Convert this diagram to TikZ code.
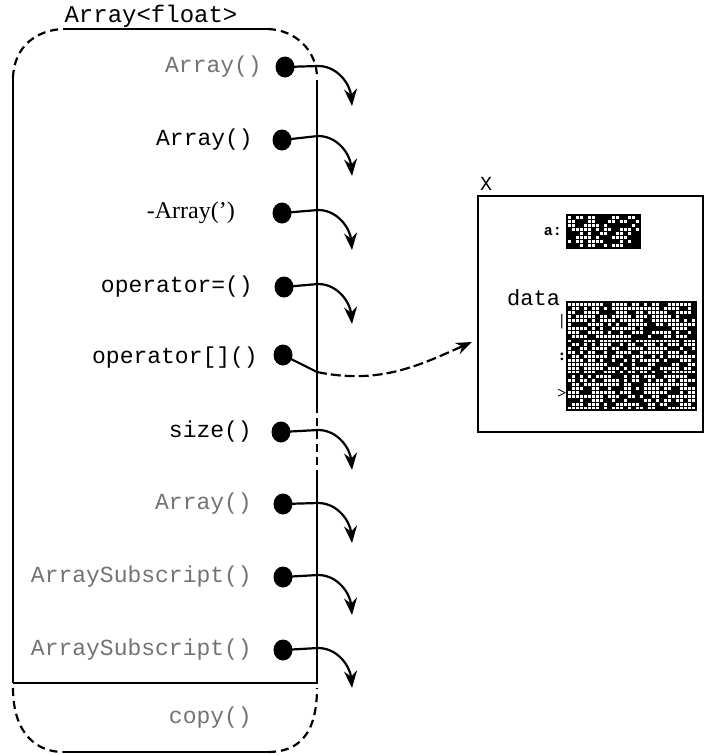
\documentclass[tikz,border=0pt]{standalone}
\usepackage{fontspec}
\setmonofont{Liberation Mono}
\setmainfont{Liberation Serif}
\usetikzlibrary{arrows.meta,shapes.geometric}
\tikzset{
  lbl/.style={anchor=east,inner sep=0pt,font=\ttfamily\fontsize{23}{25}\selectfont},
  faint/.style={text=black!55},
  dot/.style={ellipse,fill=black,inner sep=0pt,minimum width=19pt,minimum height=21pt},
  edge/.style={line width=2.2pt},
  call/.style={line width=2.2pt,-{Stealth[length=17pt,width=13pt]}},
  outline/.style={line width=2.2pt},
  dashline/.style={line width=2.2pt,dash pattern=on 8pt off 5pt},
  noisebox/.style={draw=black,line width=2pt},
  rowmark/.style={inner sep=0pt,font=\bfseries\fontsize{16}{18}\selectfont},
}
\begin{document}
\begin{tikzpicture}[x=1pt,y=-1pt]
\useasboundingbox (0,0) rectangle (704,755);
\fill[white] (0,0) rectangle (704,755);

% class outline
\node[inner sep=0pt,font=\ttfamily\fontsize{24}{26}\selectfont] (title) at (151,17) {\underline{Array<float>}};
\coordinate (tl) at (63,29);
\coordinate (tr) at (268,29);
\coordinate (ls) at (13,78);
\coordinate (rs) at (317,78);
\coordinate (lb) at (13,683);
\coordinate (rb) at (318,683);
\coordinate (bl) at (63,752);
\coordinate (br) at (268,752);
\draw[outline] (tl) -- (tr);
\draw[dashline] (ls) .. controls (14,45) and (38,30) .. (tl);
\draw[dashline] (tr) .. controls (295,30) and (317,50) .. (rs);
\draw[outline] (ls) -- (lb);
\draw[outline] (317,80) -- (317,405);
\draw[dashline] (317,405) -- (317,478);
\draw[outline] (317,478) -- (317,683);
\draw[line width=2.8pt] (lb) -- (rb);
\draw[dashline] (13,688) .. controls (13,735) and (38,752) .. (bl);
\draw[outline] (bl) -- (br);
\draw[dashline] (br) .. controls (298,752) and (317,735) .. (317,688);

% members
\node[lbl,faint] (m1) at (262,67) {Array()};
\node[lbl] (m2) at (253,140) {Array()};
\node[lbl,font=\rmfamily\fontsize{24}{26}\selectfont] (m3) at (235,213) {-Array(')};
\node[lbl] (m4) at (253,287) {operator=()};
\node[lbl] (m5) at (258,358) {operator[]()};
\node[lbl] (m6) at (252,432) {size()};
\node[lbl,faint] (m7) at (252,504) {Array()};
\node[lbl,faint] (m8) at (252,577) {ArraySubscript()};
\node[lbl,faint] (m9) at (252,650) {ArraySubscript()};
\node[lbl,faint] (m10) at (252,718) {copy()};

\foreach \k/\x/\y in {1/285/67,2/282/140,3/282/213,4/284/287,5/283/355,6/281/432,7/283/504,8/283/577,9/283/650}{
  \node[dot] (d\k) at (\x,\y) {};
}
\foreach \k/\y in {1/66,2/136,3/210,4/284,6/430,7/503,8/575,9/648}{
  \coordinate (j\k) at (318,\y);
  \coordinate (t\k) at (352,\y+40);
  \draw[edge] (d\k.center) -- (j\k);
  \draw[call] (j\k) to[out=0,in=95] (t\k);
}

% object X
\node[anchor=west,inner sep=0pt,font=\ttfamily\fontsize{20}{22}\selectfont] (xl) at (480,184) {X};
\node[draw,line width=2.4pt,minimum width=225pt,minimum height=236pt,inner sep=0pt] (xbox) at (590.5,314) {};
\node[anchor=east,inner sep=0pt,font=\ttfamily\bfseries\fontsize{15}{17}\selectfont] (alab) at (562,232) {a:};
\node[anchor=west,inner sep=0pt,font=\ttfamily\fontsize{22}{24}\selectfont] (dlab) at (507,298) {data};

\pgfmathsetseed{11}
\fill[black] (567,215) rectangle (640,248);
\foreach \i in {0,...,17}{\foreach \j in {0,...,7}{
  \pgfmathrandominteger{\r}{0}{1}
  \ifnum\r=1 \fill[white] (568+4*\i,216+4*\j) rectangle ++(3,3);\fi
}}
\node[noisebox,minimum width=73pt,minimum height=33pt,inner sep=0pt] (abox) at (603.5,231.5) {};

\fill[black] (567,302) rectangle (696,410);
\foreach \i in {0,...,31}{\foreach \j in {0,...,26}{
  \pgfmathrandominteger{\r}{0}{2}
  \ifnum\r>0 \fill[white] (568+4*\i,303+4*\j) rectangle ++(2.5,2.5);\fi
}}
\node[noisebox,minimum width=129pt,minimum height=108pt,inner sep=0pt] (dbox) at (631.5,356) {};
\draw[line width=2pt] (dbox.west |- 0,339) -- (dbox.east |- 0,339);
\draw[line width=2pt] (dbox.west |- 0,374) -- (dbox.east |- 0,374);
\node[rowmark] (r0) at (562,322) {|};
\node[rowmark] (r1) at (562,357) {:};
\node[rowmark] (r2) at (562,394) {>};

% operator[] link
\coordinate (j5) at (317,372);
\coordinate (t5) at (472,342);
\draw[edge] (d5.center) -- (j5);
\draw[line width=2.2pt,dash pattern=on 10pt off 4pt,-{Stealth[length=16pt,width=12pt]}] (j5) .. controls (380,385) and (420,365) .. (t5);
\end{tikzpicture}
\end{document}
